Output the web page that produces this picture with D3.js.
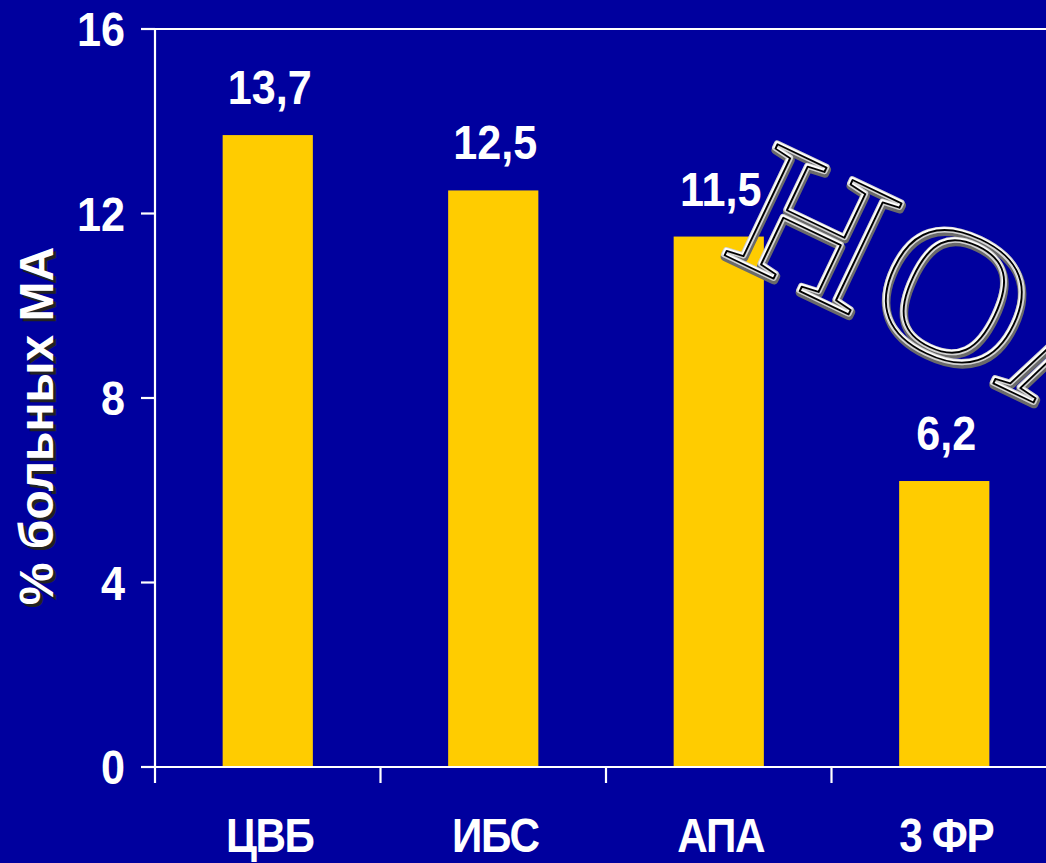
<!DOCTYPE html>
<html><head><meta charset="utf-8">
<script src="https://cdn.jsdelivr.net/npm/d3@7"></script>
<style>html,body{margin:0;padding:0;background:#00009E;overflow:hidden}</style>
</head><body>
<svg id="c" width="1046" height="863"></svg>
<script>
const categories = ["ЦВБ", "ИБС", "АПА", "3 ФР"];
const values = [13.7, 12.5, 11.5, 6.2];
const valueLabels = ["13,7", "12,5", "11,5", "6,2"];
const yTicks = [0, 4, 8, 12, 16];
const yTitle = "% больных МА";
const stamp = "НОА";

const W = 1046, H = 863;
const svg = d3.select("#c");
svg.append("rect").attr("width", W).attr("height", H).attr("fill", "#00009E");

const x0 = 155, step = 225.5, y0 = 767, y1 = 29;
const x = d3.scaleBand().domain(categories).range([x0, x0 + step * 4]).paddingInner(0.6).paddingOuter(0.3);
const xb = d3.scaleBand().domain(categories).range([x0, x0 + step * 4]).padding(0);
const y = d3.scaleLinear().domain([0, 16]).range([y0, y1]);

const font = "'Liberation Sans', Arial, sans-serif";
const sx = 0.88;

// bars
svg.selectAll("rect.bar").data(values).enter().append("rect")
  .attr("class", "bar")
  .attr("x", (d, i) => x(categories[i]))
  .attr("width", x.bandwidth())
  .attr("y", d => y(d))
  .attr("height", d => y(0) - y(d))
  .attr("fill", "#FFCC00");

// axes lines
const axisG = svg.append("g").attr("stroke", "#fff").attr("stroke-width", 2.2);
axisG.append("line").attr("x1", x0).attr("x2", x0).attr("y1", y(16)).attr("y2", y(0));
axisG.append("line").attr("x1", x0 - 14).attr("x2", W).attr("y1", y(0)).attr("y2", y(0));
axisG.append("line").attr("x1", x0 - 14).attr("x2", W).attr("y1", y(16)).attr("y2", y(16));
axisG.selectAll("line.yt").data(yTicks).enter().append("line")
  .attr("x1", x0 - 14).attr("x2", x0).attr("y1", d => y(d)).attr("y2", d => y(d));
axisG.selectAll("line.xt").data(categories).enter().append("line")
  .attr("x1", d => xb(d)).attr("x2", d => xb(d)).attr("y1", y(0)).attr("y2", y(0) + 16);

// y tick labels
svg.selectAll("text.yl").data(yTicks).enter().append("text")
  .attr("transform", d => `translate(125,${y(d) + 17}) scale(${sx},1)`)
  .attr("text-anchor", "end")
  .attr("font-family", font).attr("font-weight", "bold").attr("font-size", 49)
  .attr("fill", "#fff").text(d => d);

// category labels
svg.selectAll("text.cl").data(categories).enter().append("text")
  .attr("transform", d => `translate(${xb(d) + xb.bandwidth() / 2 + 2},852) scale(${sx},1)`)
  .attr("text-anchor", "middle")
  .attr("font-family", font).attr("font-weight", "bold").attr("font-size", 48)
  .attr("letter-spacing", -1.5)
  .attr("fill", "#fff").text(d => d);

// value labels
svg.selectAll("text.vl").data(values).enter().append("text")
  .attr("transform", (d, i) => `translate(${x(categories[i]) + x.bandwidth() / 2 + 2},${y(d) - 31}) scale(${sx},1)`)
  .attr("text-anchor", "middle")
  .attr("font-family", font).attr("font-weight", "bold").attr("font-size", 49)
  .attr("fill", "#fff").text((d, i) => valueLabels[i]);

// y title with shadow
[["#222", 3, 3], ["#fff", 0, 0]].forEach(([c, dx, dy]) => {
  svg.append("text")
    .attr("transform", `translate(${53 + dx},${426 + dy}) rotate(-90)`)
    .attr("text-anchor", "middle")
    .attr("font-family", font).attr("font-weight", "bold").attr("font-size", 48)
    .attr("fill", c).text(yTitle);
});

// WordArt-like stamp
const sg = svg.append("g").attr("transform", "translate(719,252) rotate(25.5) scale(1.1,1)");
const layers = [
  { s: "#6a6a6a", w: 8, dx: 1.5, dy: 2 },
  { s: "#d4d4d4", w: 6, dx: 0, dy: 0 },
  { s: "#ffffff", w: 3, dx: -0.5, dy: -0.5 },
  { s: "#000", w: 1.8, dx: 0.5, dy: 0.5 }
];
layers.forEach(l => {
  sg.append("text")
    .attr("x", l.dx).attr("y", l.dy)
    .attr("font-family", "'Liberation Serif', 'Times New Roman', serif")
    .attr("font-size", 188)
    .attr("letter-spacing", 6)
    .attr("fill", "none").attr("stroke", l.s).attr("stroke-width", l.w)
    .attr("stroke-linejoin", "round")
    .text(stamp);
});
</script>
</body></html>
